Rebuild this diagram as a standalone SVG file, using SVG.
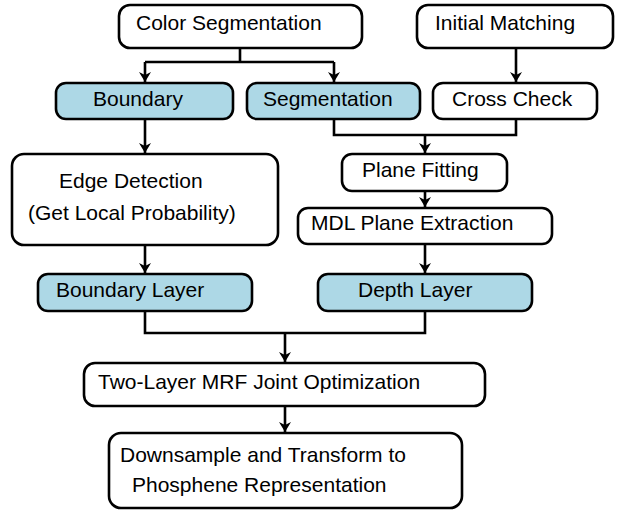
<svg xmlns="http://www.w3.org/2000/svg" width="624" height="510" viewBox="0 0 624 510">
<style>
.b{fill:#fff;stroke:#000;stroke-width:2.6}
.h{fill:#ADD8E6;stroke:#000;stroke-width:2.6}
.t{font-family:"Liberation Sans",Arial,sans-serif;font-size:21px;fill:#000}
.c{fill:none;stroke:#000;stroke-width:2.6}
</style>
<defs>
<marker id="a" markerWidth="12" markerHeight="12" refX="10" refY="6" orient="auto" markerUnits="userSpaceOnUse">
<path d="M0,0 L10,6 L0,12 L3,6 Z" fill="#000"/>
</marker>
</defs>
<rect width="624" height="510" fill="#fff"/>
<g id="connectors">
<path class="c" d="M240,48 V62 M145,62 H334"/>
<path class="c" d="M145,62 V82" marker-end="url(#a)"/>
<path class="c" d="M334,62 V82" marker-end="url(#a)"/>
<path class="c" d="M516,48 V82" marker-end="url(#a)"/>
<path class="c" d="M334,119 V135 H516 V119"/>
<path class="c" d="M425,135 V153" marker-end="url(#a)"/>
<path class="c" d="M425,191 V207" marker-end="url(#a)"/>
<path class="c" d="M425,244 V273" marker-end="url(#a)"/>
<path class="c" d="M145,119 V153" marker-end="url(#a)"/>
<path class="c" d="M145,245 V273" marker-end="url(#a)"/>
<path class="c" d="M145,311 V333 H425 V311"/>
<path class="c" d="M285,333 V362" marker-end="url(#a)"/>
<path class="c" d="M285,406 V432" marker-end="url(#a)"/>
</g>
<g id="color-segmentation"><rect class="b" x="119" y="5" width="243" height="43" rx="11"/><text class="t" x="136" y="30">Color Segmentation</text></g>
<g id="initial-matching"><rect class="b" x="417" y="5" width="196" height="43" rx="11"/><text class="t" x="435" y="30">Initial Matching</text></g>
<g id="boundary"><rect class="h" x="56" y="83" width="177" height="36" rx="10"/><text class="t" x="93" y="106">Boundary</text></g>
<g id="segmentation"><rect class="h" x="247" y="83" width="173" height="36" rx="10"/><text class="t" x="263" y="106">Segmentation</text></g>
<g id="cross-check"><rect class="b" x="433" y="83" width="164" height="36" rx="10"/><text class="t" x="452" y="106">Cross Check</text></g>
<g id="edge-detection"><rect class="b" x="12" y="154" width="266" height="91" rx="12"/><text class="t" x="59" y="188">Edge Detection</text><text class="t" x="28" y="220">(Get Local Probability)</text></g>
<g id="plane-fitting"><rect class="b" x="342" y="154" width="165" height="37" rx="10"/><text class="t" x="362" y="177">Plane Fitting</text></g>
<g id="mdl-plane-extraction"><rect class="b" x="298" y="208" width="254" height="36" rx="10"/><text class="t" x="311" y="230">MDL Plane Extraction</text></g>
<g id="boundary-layer"><rect class="h" x="38" y="274" width="214" height="37" rx="10"/><text class="t" x="56" y="297">Boundary Layer</text></g>
<g id="depth-layer"><rect class="h" x="318" y="274" width="214" height="37" rx="10"/><text class="t" x="358" y="297">Depth Layer</text></g>
<g id="two-layer-mrf"><rect class="b" x="84" y="363" width="401" height="43" rx="11"/><text class="t" x="98" y="389">Two-Layer MRF Joint Optimization</text></g>
<g id="downsample"><rect class="b" x="109" y="433" width="353" height="75" rx="12"/><text class="t" x="120" y="462">Downsample and Transform to</text><text class="t" x="132" y="492">Phosphene Representation</text></g>
</svg>
